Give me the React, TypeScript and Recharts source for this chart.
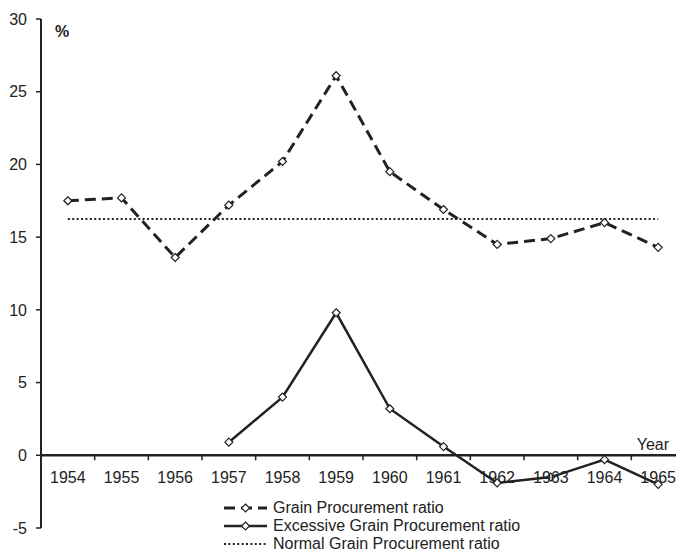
import { Legend, Line, LineChart, ReferenceLine, XAxis, YAxis } from "recharts";

const years = ["1954", "1955", "1956", "1957", "1958", "1959", "1960", "1961", "1962", "1963", "1964", "1965"];
const grainRatio = [17.5, 17.7, 13.6, 17.2, 20.2, 26.1, 19.5, 16.9, 14.5, 14.9, 16.0, 14.3];
const excessiveRatio = [null, null, null, 0.9, 4.0, 9.8, 3.2, 0.6, -1.9, -1.5, -0.3, -2.0];
const normalRatio = 16.25;
const yTicks = [-5, 0, 5, 10, 15, 20, 25, 30];

const INK = "#222";
const FONT = "'Liberation Sans', Arial, sans-serif";
const FS = 16;
const W = 700;
const H = 552;
const X_AXIS_H = 24;
const M = { top: 19, right: 15, bottom: 0, left: 0 };
const Y_MIN = -5;
const Y_MAX = 30;
const plotH = H - M.top - M.bottom - X_AXIS_H;
const zeroY = M.top + (plotH * Y_MAX) / (Y_MAX - Y_MIN);
const bandW = (W - M.left - M.right - 41) / years.length;

const data = years.map((year, i) => ({
  year,
  grain: grainRatio[i],
  excessive: excessiveRatio[i],
  normal: normalRatio,
}));

function Diamond(props: any) {
  const { cx, cy, index } = props;
  if (cy == null || cx == null) return <g key={index} />;
  const r = 4;
  return (
    <polygon
      key={index}
      points={`${cx},${cy - r} ${cx + r},${cy} ${cx},${cy + r} ${cx - r},${cy}`}
      fill="#fff"
      stroke={INK}
      strokeWidth={1.2}
    />
  );
}

function YearTick(props: any) {
  const { x, payload, index } = props;
  return (
    <g>
      {index > 0 && <line x1={x - bandW / 2} x2={x - bandW / 2} y1={zeroY} y2={zeroY + 5} stroke={INK} strokeWidth={1.5} />}
      <text x={x} y={zeroY + 28} textAnchor="middle" fontSize={FS} fontFamily={FONT} fill={INK}>
        {payload.value}
      </text>
    </g>
  );
}

const legendRows = [
  { label: "Grain Procurement ratio", kind: "dash" },
  { label: "Excessive Grain Procurement ratio", kind: "solid" },
  { label: "Normal Grain Procurement ratio", kind: "dot" },
];

function LegendBox() {
  return (
    <div style={{ fontFamily: FONT, fontSize: FS, color: INK }}>
      {legendRows.map((r) => (
        <div key={r.label} style={{ display: "flex", alignItems: "center", height: 18 }}>
          <svg width={43} height={18}>
            {r.kind === "dash" && <line x1={0} x2={43} y1={9} y2={9} stroke={INK} strokeWidth={3} strokeDasharray="11 6" />}
            {r.kind === "solid" && <line x1={0} x2={43} y1={9} y2={9} stroke={INK} strokeWidth={2.5} />}
            {r.kind === "dot" && <line x1={0} x2={43} y1={9} y2={9} stroke={INK} strokeWidth={2} strokeDasharray="2 2.4" />}
            {r.kind !== "dot" && <Diamond cx={21.5} cy={9} index={0} />}
          </svg>
          <span style={{ marginLeft: 6, whiteSpace: "nowrap" }}>{r.label}</span>
        </div>
      ))}
    </div>
  );
}

export default function App() {
  return (
    <div style={{ position: "fixed", left: 0, top: 0, width: 676, height: 552, overflow: "hidden", background: "#fff" }}>
      <LineChart width={W} height={H} data={data} margin={M}>
        <XAxis
          dataKey="year"
          axisLine={false}
          tickLine={false}
          height={X_AXIS_H}
          interval={0}
          padding={{ left: bandW / 2, right: bandW / 2 }}
          tick={<YearTick />}
        />
        <YAxis
          type="number"
          domain={[Y_MIN, Y_MAX]}
          ticks={yTicks}
          width={41}
          stroke={INK}
          axisLine={{ stroke: INK, strokeWidth: 2 }}
          tickLine={{ stroke: INK, strokeWidth: 1.5 }}
          tickSize={5}
          tickMargin={9}
          tick={{ fontSize: FS, fontFamily: FONT, fill: INK }}
          label={{
            content: (p: any) => (
              <text x={p.viewBox.x + p.viewBox.width + 14} y={p.viewBox.y + 18} fontSize={FS} fontWeight="bold" fontFamily={FONT} fill={INK}>
                %
              </text>
            ),
          }}
        />
        <ReferenceLine
          y={0}
          stroke={INK}
          strokeWidth={2.5}
          label={{
            content: (p: any) => (
              <text x={669} y={p.viewBox.y - 5} textAnchor="end" fontSize={FS} fontFamily={FONT} fill={INK}>
                Year
              </text>
            ),
          }}
        />
        <Line
          dataKey="normal"
          stroke={INK}
          strokeWidth={2}
          strokeDasharray="2 2.4"
          dot={false}
          activeDot={false}
          isAnimationActive={false}
        />
        <Line
          dataKey="grain"
          stroke={INK}
          strokeWidth={3}
          strokeDasharray="11 6"
          dot={<Diamond />}
          activeDot={false}
          isAnimationActive={false}
        />
        <Line
          dataKey="excessive"
          stroke={INK}
          strokeWidth={2.5}
          dot={<Diamond />}
          activeDot={false}
          isAnimationActive={false}
        />
        <Legend
          layout="vertical"
          align="center"
          verticalAlign="middle"
          content={<LegendBox />}
          wrapperStyle={{ left: 224, top: 499, width: "auto", bottom: "auto" }}
        />
      </LineChart>
    </div>
  );
}
